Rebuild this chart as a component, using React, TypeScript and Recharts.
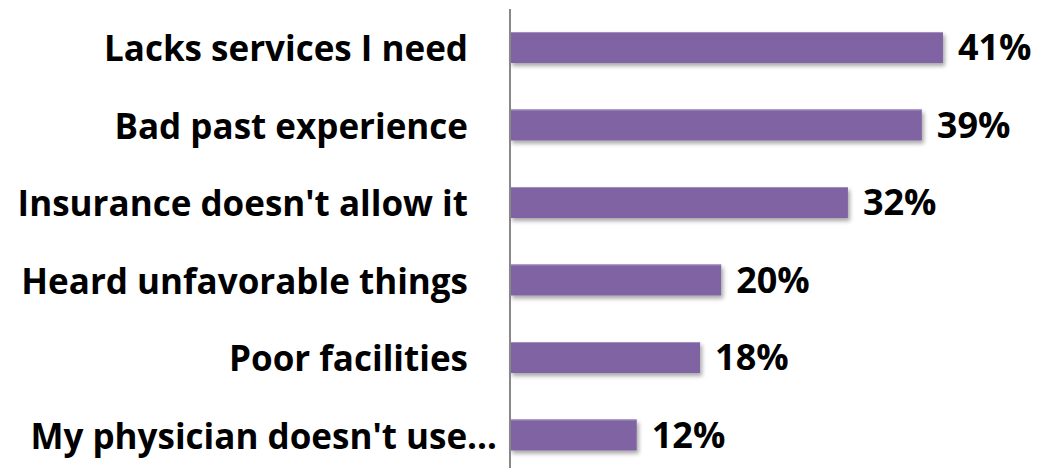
import React from 'react';
import { BarChart, Bar, XAxis, YAxis, LabelList } from 'recharts';

const categories = [
  'Lacks services I need',
  'Bad past experience',
  "Insurance doesn't allow it",
  'Heard unfavorable things',
  'Poor facilities',
  "My physician doesn't use…",
];
const values = [41, 39, 32, 20, 18, 12];

const data = categories.map((c, i) => ({ name: c, value: values[i] }));

const FONT = '"Open Sans", Lato, sans-serif';

const ShadowBar = (props: any) => {
  const { x, y, width, height } = props;
  return (
    <g>
      <rect x={x} y={y} width={width} height={height} fill="#8064A2" filter="url(#barShadow)" />
      <rect x={x} y={y} width={width} height={1} fill="#A290C0" />
    </g>
  );
};

const CatTick = (props: any) => {
  const { x, y, payload } = props;
  const text = String(payload.value);
  const truncated = text.endsWith('…');
  return (
    <text
      x={x + (truncated ? 29 : 0)}
      y={y}
      textAnchor="end"
      dominantBaseline="central"
      fontSize={35}
      fontWeight={700}
      fill="#000"
      fontFamily={FONT}
    >
      {text}
    </text>
  );
};

export default function App() {
  return (
    <div style={{ position: 'fixed', left: 0, top: 0, width: 1038, height: 468, overflow: 'hidden', background: '#fff' }}>
      <BarChart
        width={1038}
        height={480}
        data={data}
        layout="vertical"
        margin={{ top: 9, right: 0, bottom: 6, left: 0 }}
        barCategoryGap={0}
      >
        <defs>
          <filter id="barShadow" x="-5%" y="-30%" width="110%" height="180%">
            <feDropShadow dx="2" dy="3" stdDeviation="2" floodColor="#000" floodOpacity="0.35" />
          </filter>
        </defs>
        <XAxis type="number" domain={[0, 50]} hide />
        <YAxis
          type="category"
          dataKey="name"
          width={510}
          axisLine={{ stroke: '#888888', strokeWidth: 2 }}
          tickLine={false}
          tickSize={0}
          tickMargin={42}
          interval={0}
          tick={<CatTick />}
        />
        <Bar dataKey="value" barSize={31} shape={<ShadowBar />} isAnimationActive={false}>
          <LabelList
            dataKey="value"
            position="right"
            offset={15}
            formatter={(v: any) => `${v}%`}
            style={{ fontSize: 36, fontWeight: 700, fill: '#000', fontFamily: FONT }}
          />
        </Bar>
      </BarChart>
    </div>
  );
}
